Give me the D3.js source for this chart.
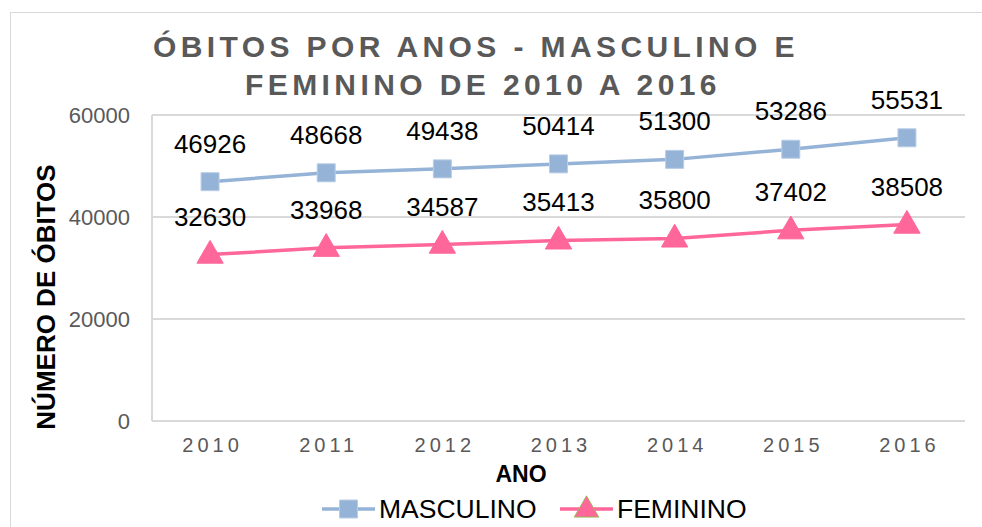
<!DOCTYPE html>
<html>
<head>
<meta charset="utf-8">
<script src="https://cdn.jsdelivr.net/npm/d3@7"></script>
<style>
  body { margin: 0; background: #fff; }
  svg { font-family: "Liberation Sans", Arial, sans-serif; }
</style>
</head>
<body>
<svg id="chart" width="982" height="527"></svg>
<script>
const anos = ['2010', '2011', '2012', '2013', '2014', '2015', '2016']
const masculino = [46926, 48668, 49438, 50414, 51300, 53286, 55531]
const feminino = [32630, 33968, 34587, 35413, 35800, 37402, 38508]
const yTicks = [0, 20000, 40000, 60000]

const svg = d3.select('#chart')

// outer chart border
svg.append('rect')
    .attr('x', 10.5).attr('y', 12.5)
    .attr('width', 990).attr('height', 530)
    .attr('fill', 'none')
    .attr('stroke', '#d9d9d9')

const plotLeft = 152, plotRight = 965, plotTop = 115, plotBottom = 421

const x = d3.scalePoint()
    .domain(anos)
    .range([plotLeft, plotRight])
    .padding(0.5)

const y = d3.scaleLinear()
    .domain([0, 60000])
    .range([plotBottom, plotTop])

// gridlines
svg.append('g')
    .selectAll('line')
    .data(yTicks)
    .enter()
    .append('line')
    .attr('x1', plotLeft).attr('x2', plotRight)
    .attr('y1', d => y(d)).attr('y2', d => y(d))
    .attr('stroke', '#d9d9d9')
    .attr('stroke-width', 2)

svg.append('line')
    .attr('x1', plotLeft).attr('x2', plotLeft)
    .attr('y1', plotTop).attr('y2', plotBottom)
    .attr('stroke', '#d9d9d9')
    .attr('stroke-width', 2)

// y axis
const yAxis = svg.append('g')
    .attr('transform', 'translate(' + plotLeft + ',0)')
    .call(d3.axisLeft(y).tickValues(yTicks).tickSize(0).tickPadding(22).tickFormat(d3.format('d')))
yAxis.select('.domain').remove()
yAxis.selectAll('text')
    .attr('fill', '#595959')
    .style('font-size', '22px')
    .attr('dy', '0.35em')

// x axis
const xAxis = svg.append('g')
    .attr('transform', 'translate(0,' + plotBottom + ')')
    .call(d3.axisBottom(x).tickSize(0).tickPadding(17))
xAxis.select('.domain').remove()
xAxis.selectAll('text')
    .attr('fill', '#595959')
    .style('font-size', '20px')
    .style('letter-spacing', '4px')
    .attr('dx', '2px')
    .attr('dy', '0.71em')

// titles
svg.append('text')
    .attr('x', 476).attr('y', 57)
    .attr('text-anchor', 'middle')
    .attr('fill', '#595959')
    .style('font-size', '30px')
    .style('font-weight', 'bold')
    .style('letter-spacing', '4.4px')
    .text('ÓBITOS POR ANOS - MASCULINO E')
svg.append('text')
    .attr('x', 483).attr('y', 95)
    .attr('text-anchor', 'middle')
    .attr('fill', '#595959')
    .style('font-size', '30px')
    .style('font-weight', 'bold')
    .style('letter-spacing', '4.4px')
    .text('FEMININO DE 2010 A 2016')

svg.append('text')
    .attr('x', 521).attr('y', 482)
    .attr('text-anchor', 'middle')
    .style('font-size', '23px')
    .style('font-weight', 'bold')
    .text('ANO')

svg.append('text')
    .attr('transform', 'translate(55,297) rotate(-90)')
    .attr('text-anchor', 'middle')
    .style('font-size', '26px')
    .style('font-weight', 'bold')
    .text('NÚMERO DE ÓBITOS')

// series
const series = [
    { name: 'MASCULINO', values: masculino, color: '#95b3d7', marker: 'square' },
    { name: 'FEMININO', values: feminino, color: '#ff6699', marker: 'triangle' }
]

const line = d3.line()
    .x((d, i) => x(anos[i]))
    .y(d => y(d))

series.forEach(s => {
    svg.append('path')
        .datum(s.values)
        .attr('d', line)
        .attr('fill', 'none')
        .attr('stroke', s.color)
        .attr('stroke-width', 3.5)

    const sym = d3.symbol()
        .type(s.marker == 'square' ? d3.symbolSquare : d3.symbolTriangle)
        .size(s.marker == 'square' ? 324 : 300)

    svg.append('g')
        .selectAll('path')
        .data(s.values)
        .enter()
        .append('path')
        .attr('d', sym)
        .attr('transform', (d, i) => 'translate(' + x(anos[i]) + ',' + (y(d) + (s.marker == 'square' ? 0 : 1)) + ')')
        .attr('fill', s.color)
        .attr('stroke', s.marker == 'square' ? '#b9cde5' : s.color)
        .attr('stroke-width', 1)

    svg.append('g')
        .selectAll('text')
        .data(s.values)
        .enter()
        .append('text')
        .attr('x', (d, i) => x(anos[i]))
        .attr('y', d => y(d) - 29)
        .attr('text-anchor', 'middle')
        .style('font-size', '26px')
        .text(d => d)
})

// legend
const legend = [
    { name: 'MASCULINO', color: '#95b3d7', marker: 'square', x: 322 },
    { name: 'FEMININO', color: '#ff6699', marker: 'triangle', x: 560 }
]
legend.forEach(l => {
    const g = svg.append('g').attr('transform', 'translate(' + l.x + ',509)')
    g.append('line')
        .attr('x1', 0).attr('x2', 53)
        .attr('stroke', l.color)
        .attr('stroke-width', 3.5)
    g.append('path')
        .attr('d', d3.symbol()
            .type(l.marker == 'square' ? d3.symbolSquare : d3.symbolTriangle)
            .size(l.marker == 'square' ? 324 : 260))
        .attr('transform', 'translate(26.5,' + (l.marker == 'square' ? 0 : 1) + ')')
        .attr('fill', l.color)
        .attr('stroke', l.marker == 'square' ? '#b9cde5' : '#9bbb59')
        .attr('stroke-width', 1)
    g.append('text')
        .attr('x', 57).attr('y', 9)
        .style('font-size', '26.5px')
        .text(l.name)
})
</script>
</body>
</html>
